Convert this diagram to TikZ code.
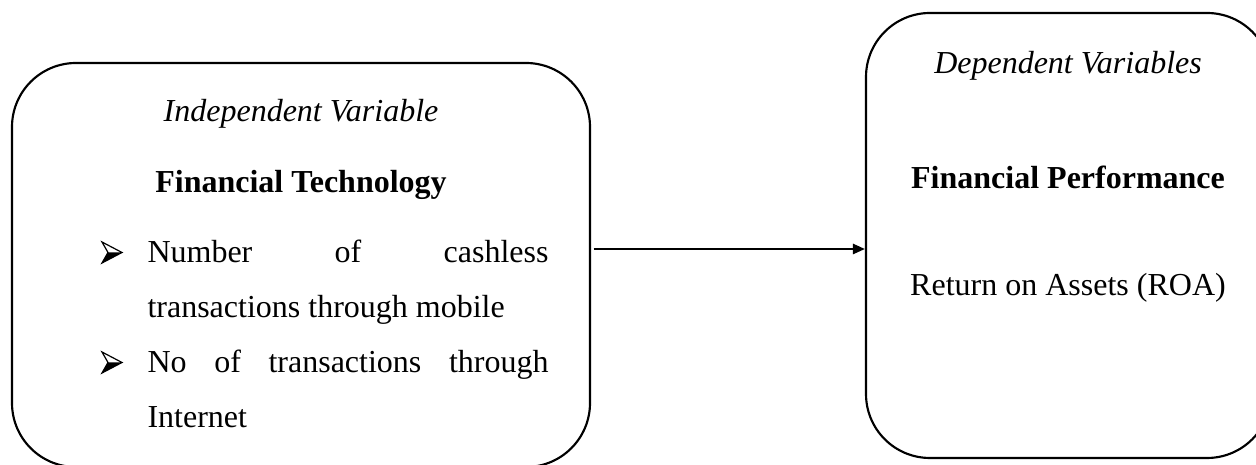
\documentclass[tikz,border=0pt]{standalone}
\usepackage{fontspec}
\setmainfont{Liberation Serif}
\usetikzlibrary{arrows.meta}
\begin{document}
\begin{tikzpicture}[x=0.375pt,y=-0.375pt,
  box/.style={draw, line width=0.8pt, rounded corners=24pt, inner sep=0pt},
  lbl/.style={anchor=base, inner sep=0pt, font=\fontsize{12pt}{14pt}\selectfont},
  item/.style={anchor=base west, inner sep=0pt, font=\fontsize{12pt}{14pt}\selectfont},
  conn/.style={line width=0.8pt, shorten <=1pt, -{Triangle[length=4.5pt,width=3.8pt]}},
  pics/arrbul/.style={code={
    \fill[black] (6,10.5) -- (20,10.5) -- (0,21) -- cycle;
    \draw[line width=0.45pt, line join=miter] (0,0) -- (20,10.5) -- (0,21) -- (6,10.5) -- cycle;
  }}]
\useasboundingbox (0,0) rectangle (1256,465);
\node[box, minimum width=216.75pt, minimum height=151.5pt] (L) at (301,265) {};
\node[box, minimum width=151.875pt, minimum height=166.875pt] (R) at (1068.5,235.5) {};
\node[lbl] (lt) at (301,122) {\itshape Independent Variable};
\node[lbl] (lh) at (301,193) {\bfseries Financial Technology};
\pic at (102,242) {arrbul};
\pic at (102,352) {arrbul};
\node[item] (i1) at (147,263) {\makebox[150.4pt][s]{Number of cashless}};
\node[item] (i2) at (147,318) {transactions through mobile};
\node[item] (i3) at (147,373) {\makebox[150.4pt][s]{No of transactions through}};
\node[item] (i4) at (147,428) {Internet};
\node[lbl] (rt) at (1068,74) {\itshape Dependent Variables};
\node[lbl] (rh) at (1068,189) {\bfseries Financial Performance};
\node[lbl] (rv) at (1068,296) {Return on Assets (ROA)};
\draw[conn] (L.east |- 0,249) -- (R.west |- 0,249);
\end{tikzpicture}
\end{document}
